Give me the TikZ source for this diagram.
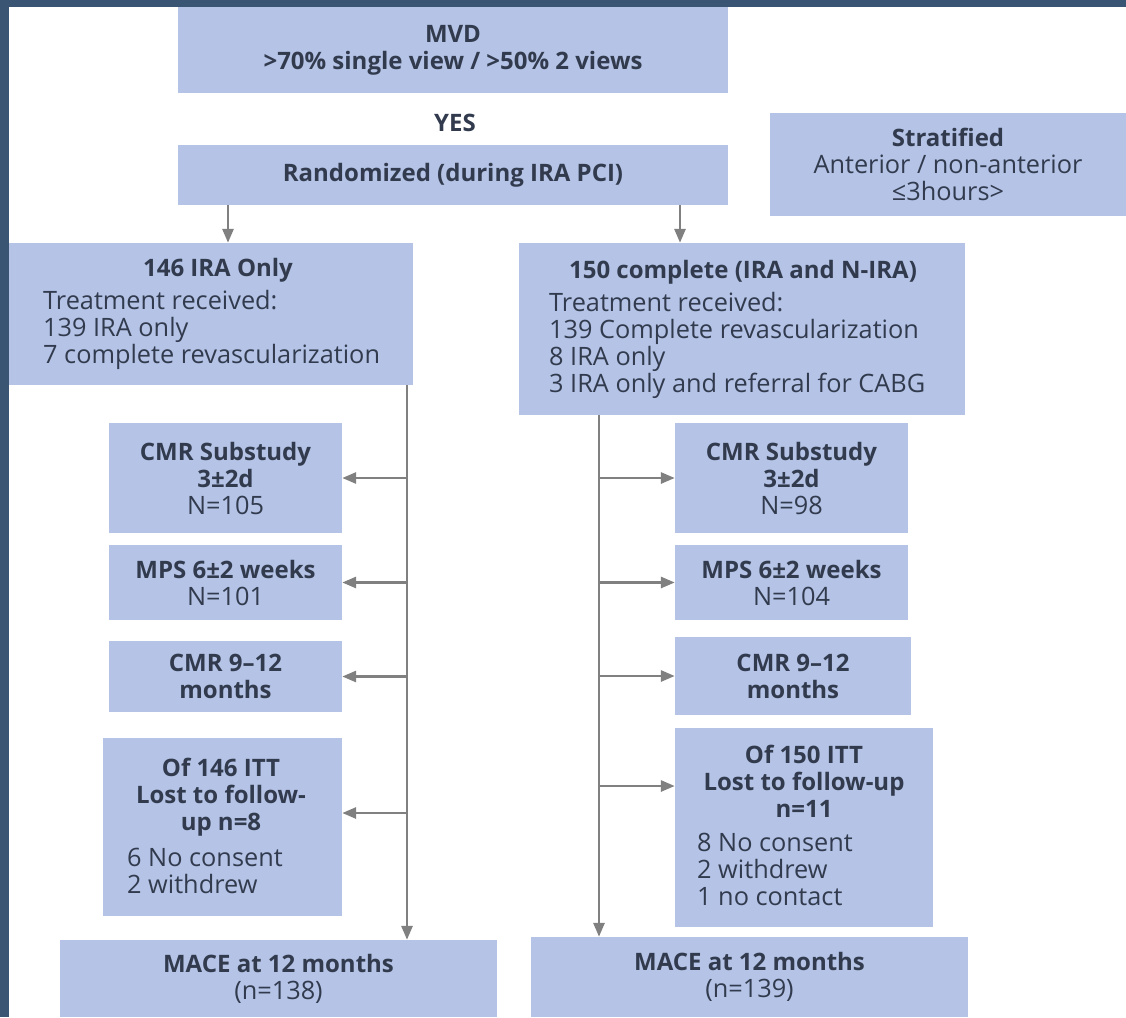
\documentclass[tikz,border=0pt]{standalone}
\usepackage{fontspec}
\setmainfont{Open Sans}
\usetikzlibrary{arrows.meta,positioning}

\definecolor{frameblue}{HTML}{3A5573}
\definecolor{boxblue}{HTML}{B4C3E6}
\definecolor{inkgrey}{HTML}{323B4E}
\definecolor{linegrey}{HTML}{808080}
\newcommand{\boxfont}{\fontsize{25.3}{27}\selectfont}
\newcommand{\hd}[1]{{\fontsize{24}{27}\selectfont\bfseries #1}}

\tikzset{
  box/.style={fill=boxblue, text=inkgrey, font=\boxfont, align=center, inner sep=0pt},
  plain/.style={text=inkgrey, font=\boxfont, align=center, inner sep=0pt},
  flow/.style={draw=linegrey, line width=2.8pt, -{Triangle[length=14pt,width=11pt]}},
}

\begin{document}
\begin{tikzpicture}[x=1pt,y=-1pt]
% page and frame
\fill[white] (0,0) rectangle (1126,1017);
\useasboundingbox (0,0) rectangle (1126,1017);
\fill[frameblue] (0,0) rectangle (1126,7);
\fill[frameblue] (0,0) rectangle (9,1017);

% top of the chart
\node[box, minimum width=550, minimum height=86] (mvd) at (453,50) {\hd{MVD}\\\hd{>70\% single view / >50\% 2 views}};
\node[plain] (yes) at (455,123) {\hd{YES}};
\node[box, minimum width=550, minimum height=60] (rand) at (453,175) {\hd{Randomized (during IRA PCI)}};
\node[box, minimum width=356, minimum height=103] (strat) at (948,164.5) {\hd{Stratified}\\Anterior / non-anterior\\≤3hours>};

% the two arms
\node[box, minimum width=404, minimum height=142] (ira) at (211,314) {};
\node[plain] (irahead) at (218,270) {\hd{146 IRA Only}};
\node[plain, anchor=west, align=left] (iralist) at (43,330) {Treatment received:\\139 IRA only\\7 complete revascularization};

\node[box, minimum width=446, minimum height=172] (full) at (742,329) {};
\node[plain] (fullhead) at (743,272) {\hd{150 complete (IRA and N-IRA)}};
\node[plain, anchor=west, align=left] (fulllist) at (549,345.5) {Treatment received:\\139 Complete revascularization\\8 IRA only\\3 IRA only and referral for CABG};

% follow-up, IRA only
\node[box, minimum width=233, minimum height=110] (lcmr) at (225.5,478) {\hd{CMR Substudy}\\\hd{3±2d}\\N=105};
\node[box, minimum width=233, minimum height=75] (lmps) at (225.5,582.5) {\hd{MPS 6±2 weeks}\\N=101};
\node[box, minimum width=233, minimum height=71] (lcmr2) at (225.5,676.5) {\hd{CMR 9--12}\\\hd{months}};
\node[box, minimum width=239, minimum height=178] (llost) at (222.5,827) {};
\node[plain] (llosthead) at (221,797) {\hd{Of 146 ITT}\\\hd{Lost to follow-}\\\hd{up n=8}};
\node[plain, anchor=west, align=left] (llostlist) at (127,871) {6 No consent\\2 withdrew};
\node[box, minimum width=437, minimum height=77] (lmace) at (278.5,978.5) {\hd{MACE at 12 months}\\(n=138)};

% follow-up, complete
\node[box, minimum width=233, minimum height=110] (rcmr) at (791.5,478) {\hd{CMR Substudy}\\\hd{3±2d}\\N=98};
\node[box, minimum width=233, minimum height=75] (rmps) at (791.5,582.5) {\hd{MPS 6±2 weeks}\\N=104};
\node[box, minimum width=236, minimum height=78] (rcmr2) at (793,676) {\hd{CMR 9--12}\\\hd{months}};
\node[box, minimum width=258, minimum height=199] (rlost) at (804,827.5) {};
\node[plain] (rlosthead) at (804,781) {\hd{Of 150 ITT}\\\hd{Lost to follow-up}\\\hd{n=11}};
\node[plain, anchor=west, align=left] (rlostlist) at (697,869) {8 No consent\\2 withdrew\\1 no contact};
\node[box, minimum width=437, minimum height=80] (rmace) at (749.5,977) {\hd{MACE at 12 months}\\(n=139)};

% arrows
\draw[flow] ([xshift=-225]rand.south) -- ([xshift=-225]rand.south |- ira.north);
\draw[flow] ([xshift=227]rand.south) -- ([xshift=227]rand.south |- full.north);
\coordinate (ltop) at ([xshift=196]ira.south);
\coordinate (rtop) at ([xshift=-143]full.south);
\draw[flow] (ltop) -- (ltop |- lmace.north);
\draw[flow] (rtop) -- (rtop |- rmace.north);
\foreach \b/\s in {lcmr/0,lmps/0,lcmr2/0,llost/14}
  \draw[flow] ([yshift=\s]ltop |- \b.east) -- ([yshift=\s]\b.east);
\foreach \b/\s in {rcmr/0,rmps/0,rcmr2/0,rlost/41.5}
  \draw[flow] ([yshift=\s]rtop |- \b.west) -- ([yshift=\s]\b.west);
\end{tikzpicture}
\end{document}
